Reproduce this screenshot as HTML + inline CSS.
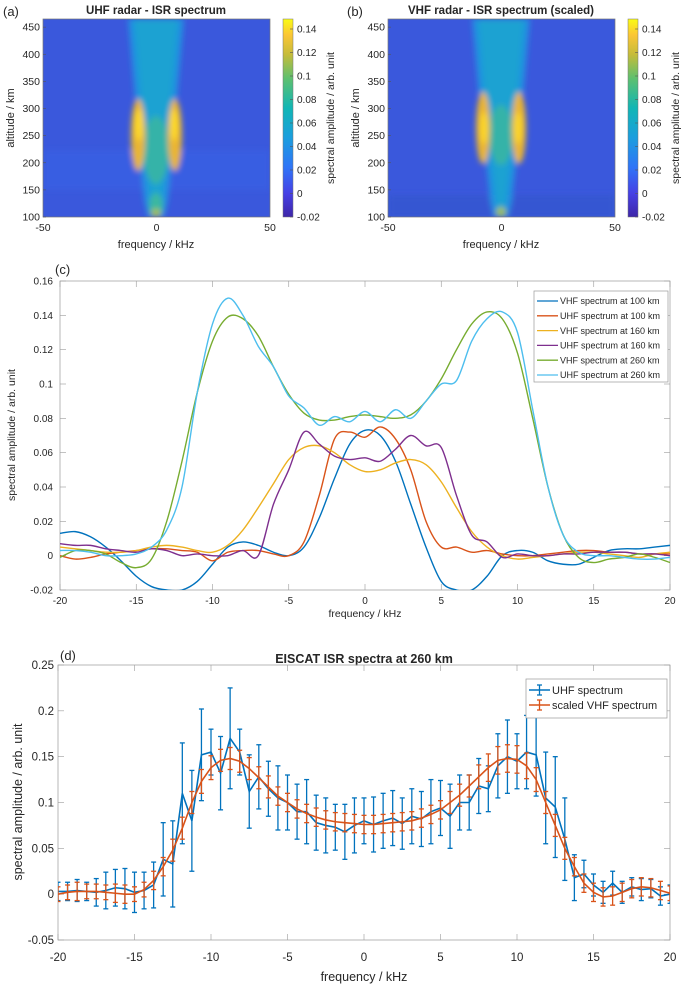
<!DOCTYPE html>
<html><head><meta charset="utf-8"><style>
body{margin:0;background:#fff}
svg{display:block;font-family:"Liberation Sans",Arial,sans-serif}
</style></head><body>
<svg id="fig" width="689" height="992" viewBox="0 0 689 992" xmlns="http://www.w3.org/2000/svg">
<defs>
<linearGradient id="parula" x1="0" y1="1" x2="0" y2="0">
<stop offset="0" stop-color="#3e26a8"/><stop offset="0.12" stop-color="#4640e5"/><stop offset="0.25" stop-color="#2f74f7"/><stop offset="0.4" stop-color="#1b9ede"/><stop offset="0.55" stop-color="#11b6b5"/><stop offset="0.7" stop-color="#5ec06f"/><stop offset="0.82" stop-color="#c5bc3a"/><stop offset="0.92" stop-color="#fbc635"/><stop offset="1" stop-color="#f9fb15"/>
</linearGradient>
<filter id="blur3" x="-50%" y="-50%" width="200%" height="200%"><feGaussianBlur stdDeviation="3"/></filter>
<clipPath id="clipA"><rect x="43" y="19" width="227" height="198"/></clipPath>
<clipPath id="clipB"><rect x="388" y="19" width="227" height="198"/></clipPath>
<clipPath id="clipC"><rect x="60" y="280" width="610" height="310"/></clipPath>
<clipPath id="clipD"><rect x="58" y="665" width="612" height="275"/></clipPath>
</defs>

<g clip-path="url(#clipA)">
<rect x="43" y="19" width="227" height="198" fill="#3a58dc"/>
<g filter="url(#blur3)">
<rect x="43" y="150" width="227" height="40" fill="#3660e4" opacity="0.7"/>
<polygon points="128,19 184,19 176,110 168,200 164,217 148,217 144,200 136,110" fill="#2092e0"/>
<polygon points="134,19 178,19 170,110 160,217 152,217 142,110" fill="#1ea2d2"/>
<ellipse cx="156" cy="150" rx="13" ry="34" fill="#36b3a8"/>
<ellipse cx="138" cy="135" rx="7" ry="36" fill="#eab532"/>
<ellipse cx="175" cy="135" rx="7" ry="36" fill="#eab532"/>
<ellipse cx="139" cy="125" rx="4" ry="16" fill="#fdd92a"/>
<ellipse cx="174" cy="125" rx="4" ry="16" fill="#fdd92a"/>
<ellipse cx="156" cy="205" rx="7" ry="12" fill="#3ab7a0"/>
<ellipse cx="156" cy="213" rx="5" ry="4" fill="#a8c048"/>
</g></g>
<rect x="43" y="19" width="227" height="198" fill="none" stroke="#777" stroke-width="0.7"/>
<rect x="283" y="19" width="10" height="198" fill="url(#parula)" stroke="#777" stroke-width="0.5"/>

<g clip-path="url(#clipB)">
<rect x="388" y="19" width="227" height="198" fill="#3a58dc"/>
<g filter="url(#blur3)">
<rect x="388" y="195" width="227" height="22" fill="#3456d0" opacity="0.8"/>
<polygon points="472,19 530,19 522,110 512,200 508,217 494,217 490,200 480,110" fill="#2092e0"/>
<polygon points="478,19 524,19 516,110 504,217 498,217 486,110" fill="#1ea2d2"/>
<ellipse cx="501" cy="135" rx="12" ry="30" fill="#36b3a8"/>
<ellipse cx="483" cy="128" rx="7" ry="36" fill="#eab532"/>
<ellipse cx="519" cy="128" rx="7" ry="36" fill="#eab532"/>
<ellipse cx="484" cy="128" rx="4" ry="16" fill="#fbd62a"/>
<ellipse cx="518" cy="128" rx="4" ry="16" fill="#fbd62a"/>
<ellipse cx="501" cy="212" rx="5" ry="5" fill="#9fc050"/>
</g></g>
<rect x="388" y="19" width="227" height="198" fill="none" stroke="#777" stroke-width="0.7"/>
<rect x="628" y="19" width="10" height="198" fill="url(#parula)" stroke="#777" stroke-width="0.5"/>

<g id="static-text" fill="#262626">
<text x="3" y="16" font-size="13">(a)</text>
<text x="156" y="14" font-size="11.5" font-weight="bold" text-anchor="middle">UHF radar - ISR spectrum</text>
<text x="156" y="248" font-size="11" text-anchor="middle">frequency / kHz</text>
<text transform="translate(14,118) rotate(-90)" font-size="11" text-anchor="middle">altitude / km</text>
<text transform="translate(334,118) rotate(-90)" font-size="10.5" text-anchor="middle">spectral amplitude / arb. unit</text>
<text x="347" y="16" font-size="13">(b)</text>
<text x="501" y="14" font-size="11.5" font-weight="bold" text-anchor="middle">VHF radar - ISR spectrum (scaled)</text>
<text x="501" y="248" font-size="11" text-anchor="middle">frequency / kHz</text>
<text transform="translate(359,118) rotate(-90)" font-size="11" text-anchor="middle">altitude / km</text>
<text transform="translate(679,118) rotate(-90)" font-size="10.5" text-anchor="middle">spectral amplitude / arb. unit</text>
<text x="55" y="274" font-size="13">(c)</text>
<text x="365" y="617" font-size="10.5" text-anchor="middle">frequency / kHz</text>
<text transform="translate(15,435) rotate(-90)" font-size="10.5" text-anchor="middle">spectral amplitude / arb. unit</text>
<text x="60" y="660" font-size="13">(d)</text>
<text x="364" y="663" font-size="12.5" font-weight="bold" text-anchor="middle">EISCAT ISR spectra at 260 km</text>
<text x="364" y="981" font-size="12.5" text-anchor="middle">frequency / kHz</text>
<text transform="translate(22,802) rotate(-90)" font-size="12.5" text-anchor="middle">spectral amplitude / arb. unit</text>
</g>
<g id="dyn"></g>
</svg>
<script>
// ---- panel (c) data ----
const cFreq = [-20,-19,-18,-17,-16,-15,-14,-13,-12,-11,-10,-9,-8,-7,-6,-5,-4,-3,-2,-1,0,1,2,3,4,5,6,7,8,9,10,11,12,13,14,15,16,17,18,19,20];
const vhf100 = [0.013,0.014,0.011,0.005,-0.003,-0.012,-0.018,-0.02,-0.02,-0.015,-0.005,0.005,0.008,0.006,0.002,0.0,0.005,0.022,0.045,0.065,0.073,0.07,0.055,0.03,0.005,-0.015,-0.02,-0.02,-0.012,0.0,0.003,0.002,-0.003,-0.005,-0.005,-0.001,0.003,0.004,0.004,0.005,0.006];
const uhf100 = [0.0,-0.002,-0.001,0.001,0.002,0.003,0.004,0.004,0.003,0.002,-0.003,0.002,0.003,0.003,0.001,0.0,0.008,0.035,0.068,0.072,0.069,0.075,0.068,0.05,0.02,0.005,0.005,0.002,0.003,0.001,0.0,0.0,0.001,0.002,0.003,0.003,0.002,0.002,0.001,0.001,0.001];
const vhf160 = [0.005,0.004,0.003,0.002,0.002,0.003,0.005,0.006,0.005,0.003,0.002,0.006,0.015,0.028,0.042,0.056,0.063,0.064,0.06,0.053,0.049,0.05,0.054,0.056,0.053,0.043,0.028,0.014,0.005,0.0,-0.002,-0.001,0.0,0.001,0.002,0.002,0.001,0.0,-0.001,0.001,0.002];
const uhf160 = [0.007,0.006,0.006,0.004,0.003,0.002,0.004,0.003,0.0,0.001,0.0,0.0,0.003,0.0,0.03,0.05,0.072,0.065,0.058,0.056,0.057,0.055,0.062,0.07,0.064,0.063,0.035,0.012,0.008,-0.001,0.001,0.0,0.0,0.001,0.001,0.002,0.002,0.002,0.001,0.001,0.0];
const vhf260 = [-0.001,0.003,0.003,0.001,-0.004,-0.007,-0.002,0.02,0.055,0.095,0.125,0.139,0.138,0.128,0.11,0.094,0.083,0.079,0.079,0.081,0.082,0.081,0.08,0.082,0.09,0.103,0.12,0.135,0.142,0.138,0.118,0.08,0.04,0.012,-0.001,-0.004,-0.002,-0.001,0.001,-0.001,-0.004];
const uhf260 = [0.003,0.003,0.002,0.0,0.0,0.001,0.005,0.015,0.04,0.095,0.135,0.15,0.14,0.122,0.11,0.093,0.086,0.076,0.081,0.078,0.084,0.078,0.085,0.08,0.09,0.1,0.102,0.125,0.138,0.142,0.13,0.085,0.04,0.012,0.002,0.0,0.0,-0.001,-0.002,-0.002,-0.001];
const cSeriesNames = ["VHF spectrum at 100 km","UHF spectrum at 100 km","VHF spectrum at 160 km","UHF spectrum at 160 km","VHF spectrum at 260 km","UHF spectrum at 260 km"];
const cYTicks = [-0.02,0,0.02,0.04,0.06,0.08,0.1,0.12,0.14,0.16];
const cXTicks = [-20,-15,-10,-5,0,5,10,15,20];
// ---- panel (d) data ----
const dFreq = [-20,-19.375,-18.75,-18.125,-17.5,-16.875,-16.25,-15.625,-15,-14.375,-13.75,-13.125,-12.5,-11.875,-11.25,-10.625,-10,-9.375,-8.75,-8.125,-7.5,-6.875,-6.25,-5.625,-5,-4.375,-3.75,-3.125,-2.5,-1.875,-1.25,-0.625,0,0.625,1.25,1.875,2.5,3.125,3.75,4.375,5,5.625,6.25,6.875,7.5,8.125,8.75,9.375,10,10.625,11.25,11.875,12.5,13.125,13.75,14.375,15,15.625,16.25,16.875,17.5,18.125,18.75,19.375,20];
const uhfVal = [0.003,0.003,0.004,0.003,0.002,0.004,0.007,0.006,0.002,0.004,0.01,0.038,0.033,0.11,0.08,0.152,0.155,0.132,0.17,0.155,0.112,0.128,0.115,0.105,0.1,0.09,0.09,0.078,0.075,0.073,0.068,0.075,0.08,0.076,0.08,0.083,0.077,0.085,0.082,0.09,0.094,0.085,0.1,0.1,0.118,0.115,0.14,0.15,0.145,0.155,0.152,0.105,0.095,0.06,0.018,0.022,0.01,0.002,0.012,0.002,0.008,0.005,0.006,-0.002,0.0];
const uhfErr = [0.01,0.01,0.012,0.01,0.015,0.02,0.02,0.022,0.022,0.02,0.025,0.04,0.047,0.055,0.055,0.05,0.025,0.04,0.055,0.025,0.04,0.035,0.03,0.035,0.03,0.03,0.035,0.03,0.03,0.025,0.03,0.03,0.025,0.03,0.03,0.03,0.028,0.03,0.03,0.035,0.03,0.035,0.03,0.03,0.03,0.025,0.035,0.04,0.03,0.04,0.045,0.05,0.055,0.045,0.025,0.015,0.012,0.012,0.013,0.012,0.01,0.012,0.01,0.01,0.01];
const vhfVal = [0.0,0.002,0.003,0.003,0.003,0.002,0.001,0.0,0.0,0.005,0.015,0.03,0.048,0.072,0.1,0.123,0.138,0.146,0.148,0.145,0.137,0.127,0.117,0.107,0.1,0.093,0.088,0.084,0.081,0.079,0.078,0.077,0.076,0.076,0.077,0.078,0.079,0.08,0.083,0.087,0.092,0.1,0.108,0.118,0.128,0.138,0.146,0.148,0.147,0.14,0.125,0.1,0.075,0.05,0.03,0.012,0.002,-0.003,-0.002,0.002,0.006,0.008,0.007,0.004,0.001];
const vhfErr = [0.008,0.008,0.01,0.008,0.008,0.008,0.01,0.01,0.008,0.008,0.01,0.01,0.012,0.012,0.012,0.013,0.013,0.012,0.012,0.012,0.012,0.012,0.012,0.01,0.01,0.01,0.01,0.01,0.01,0.01,0.01,0.01,0.01,0.01,0.01,0.01,0.01,0.01,0.01,0.01,0.01,0.012,0.012,0.012,0.013,0.015,0.015,0.015,0.015,0.014,0.013,0.012,0.012,0.012,0.01,0.01,0.01,0.01,0.01,0.01,0.01,0.01,0.01,0.01,0.008];
const dYTicks = [-0.05,0,0.05,0.1,0.15,0.2,0.25];
const dXTicks = [-20,-15,-10,-5,0,5,10,15,20];
const dSeriesNames = ["UHF spectrum","scaled VHF spectrum"];
// ---- heatmap ticks ----
const altTicks = [100,150,200,250,300,350,400,450];
const hmXTicks = [-50,0,50];
const cbTicks = [-0.02,0,0.02,0.04,0.06,0.08,0.1,0.12,0.14];

const NS="http://www.w3.org/2000/svg";
const dyn=document.getElementById('dyn');
function mk(tag,attrs,parent){const e=document.createElementNS(NS,tag);for(const k in attrs)e.setAttribute(k,attrs[k]);(parent||dyn).appendChild(e);return e;}
function lin(d0,d1,r0,r1){return v=>r0+(v-d0)/(d1-d0)*(r1-r0);}
function fmt(v){return String(Math.round(v*1000)/1000);}

function hmAxes(x0,x1,y0,y1,cbx,pre){
  const sx=lin(-50,50,x0,x1), sy=lin(100,465,y1,y0);
  altTicks.forEach(t=>{
    const y=sy(t);
    const l=mk('line',{x1:x0,x2:x0+3,y1:y,y2:y,stroke:'#555','stroke-width':0.6});
    
    
    const tx=mk('text',{x:x0-3,y:y+3.5,'font-size':10.5,'text-anchor':'end',fill:'#262626'});
    
    
    tx.textContent=t;
  });
  hmXTicks.forEach(t=>{
    const x=sx(t);
    const tx=mk('text',{x:x,y:y1+14,'font-size':10.5,'text-anchor':'middle',fill:'#262626'});
    
    
    tx.textContent=t;
  });
  const cy=lin(-0.02,0.14,217,29);
  cbTicks.forEach(t=>{
    const y=cy(t);
    mk('line',{x1:cbx+7,x2:cbx+10,y1:y,y2:y,stroke:'#555','stroke-width':0.6});
    const tx=mk('text',{x:cbx+14,y:y+3.5,'font-size':10,fill:'#262626'});
    
    
    tx.textContent=fmt(t);
  });
}
hmAxes(43,270,19,217,283,'panel-a');
hmAxes(388,615,19,217,628,'panel-b');

const cx=lin(-20,20,60,670), cy=lin(-0.02,0.16,590,281);
mk('rect',{x:60,y:281,width:610,height:309,fill:'none',stroke:'#999','stroke-width':0.7});
cYTicks.forEach(t=>{
  const y=cy(t);
  mk('line',{x1:60,x2:66,y1:y,y2:y,stroke:'#999','stroke-width':0.6});
  mk('line',{x1:664,x2:670,y1:y,y2:y,stroke:'#999','stroke-width':0.6});
  const tx=mk('text',{x:53,y:y+3.5,'font-size':10,'text-anchor':'end',fill:'#262626'});
  
  
  tx.textContent=fmt(t);
});
cXTicks.forEach(t=>{
  const x=cx(t);
  mk('line',{x1:x,x2:x,y1:590,y2:584,stroke:'#999','stroke-width':0.6});
  mk('line',{x1:x,x2:x,y1:281,y2:287,stroke:'#999','stroke-width':0.6});
  const tx=mk('text',{x:x,y:604,'font-size':10,'text-anchor':'middle',fill:'#262626'});
  
  
  tx.textContent=t;
});
function smoothPath(xs,ys){
  const p=xs.map((x,i)=>[x,ys[i]]);
  let d='M'+p[0][0].toFixed(2)+','+p[0][1].toFixed(2);
  for(let i=0;i<p.length-1;i++){
    const p0=p[Math.max(0,i-1)],p1=p[i],p2=p[i+1],p3=p[Math.min(p.length-1,i+2)];
    const c1=[p1[0]+(p2[0]-p0[0])/6,p1[1]+(p2[1]-p0[1])/6];
    const c2=[p2[0]-(p3[0]-p1[0])/6,p2[1]-(p3[1]-p1[1])/6];
    d+='C'+c1[0].toFixed(2)+','+c1[1].toFixed(2)+' '+c2[0].toFixed(2)+','+c2[1].toFixed(2)+' '+p2[0].toFixed(2)+','+p2[1].toFixed(2);
  }
  return d;
}
const cSeries=[vhf100,uhf100,vhf160,uhf160,vhf260,uhf260];
const cColors=['#0072bd','#d95319','#edb120','#7e2f8e','#77ac30','#4dbeee'];
const cNames=['line-vhf-100km','line-uhf-100km','line-vhf-160km','line-uhf-160km','line-vhf-260km','line-uhf-260km'];
const gC=mk('g',{'clip-path':'url(#clipC)'});
cSeries.forEach((s,i)=>{
  const p=mk('path',{d:smoothPath(cFreq.map(cx),s.map(cy)),fill:'none',stroke:cColors[i],'stroke-width':1.4},gC);
  
  
});
const legC=mk('g',{});


mk('rect',{x:534,y:291,width:134,height:91,fill:'#fff',stroke:'#999','stroke-width':0.7},legC);
cSeriesNames.forEach((n,i)=>{
  const y=301+i*14.8;
  mk('line',{x1:537,x2:558,y1:y,y2:y,stroke:cColors[i],'stroke-width':1.3},legC);
  const tx=mk('text',{x:560,y:y+3.2,'font-size':9,fill:'#262626'},legC);
  
  
  tx.textContent=n;
});

const dx=lin(-20,20,58,670), dy=lin(-0.05,0.25,940,665);
mk('rect',{x:58,y:665,width:612,height:275,fill:'none',stroke:'#999','stroke-width':0.7});
dYTicks.forEach(t=>{
  const y=dy(t);
  mk('line',{x1:58,x2:64,y1:y,y2:y,stroke:'#999','stroke-width':0.6});
  mk('line',{x1:664,x2:670,y1:y,y2:y,stroke:'#999','stroke-width':0.6});
  const tx=mk('text',{x:54,y:y+4,'font-size':11.5,'text-anchor':'end',fill:'#262626'});
  
  
  tx.textContent=fmt(t);
});
dXTicks.forEach(t=>{
  const x=dx(t);
  mk('line',{x1:x,x2:x,y1:940,y2:934,stroke:'#999','stroke-width':0.6});
  mk('line',{x1:x,x2:x,y1:665,y2:671,stroke:'#999','stroke-width':0.6});
  const tx=mk('text',{x:x,y:961,'font-size':11.5,'text-anchor':'middle',fill:'#262626'});
  
  
  tx.textContent=t;
});
const gD=mk('g',{'clip-path':'url(#clipD)'});
function errSeries(vals,errs,color,name){
  const g=mk('g',{},gD);
  
  
  mk('polyline',{points:dFreq.map((f,i)=>dx(f).toFixed(2)+','+dy(vals[i]).toFixed(2)).join(' '),fill:'none',stroke:color,'stroke-width':1.6},g);
  dFreq.forEach((f,i)=>{
    const x=dx(f),y0=dy(vals[i]-errs[i]),y1=dy(vals[i]+errs[i]);
    mk('line',{x1:x,x2:x,y1:y0,y2:y1,stroke:color,'stroke-width':1.3},g);
    mk('line',{x1:x-2.5,x2:x+2.5,y1:y0,y2:y0,stroke:color,'stroke-width':1.3},g);
    mk('line',{x1:x-2.5,x2:x+2.5,y1:y1,y2:y1,stroke:color,'stroke-width':1.3},g);
  });
}
errSeries(uhfVal,uhfErr,'#0072bd','series-uhf-spectrum');
errSeries(vhfVal,vhfErr,'#d95319','series-scaled-vhf-spectrum');
const legD=mk('g',{});


mk('rect',{x:526,y:679,width:141,height:39,fill:'#fff',stroke:'#999','stroke-width':0.7},legD);
['#0072bd','#d95319'].forEach((c,i)=>{
  const y=690+i*15;
  mk('line',{x1:529,x2:550,y1:y,y2:y,stroke:c,'stroke-width':1.5},legD);
  mk('line',{x1:539.5,x2:539.5,y1:y-5,y2:y+5,stroke:c,'stroke-width':1.3},legD);
  mk('line',{x1:537,x2:542,y1:y-5,y2:y-5,stroke:c,'stroke-width':1.3},legD);
  mk('line',{x1:537,x2:542,y1:y+5,y2:y+5,stroke:c,'stroke-width':1.3},legD);
  const tx=mk('text',{x:552,y:y+4,'font-size':11,fill:'#262626'},legD);
  
  
  tx.textContent=dSeriesNames[i];
});
</script>
</body></html>
